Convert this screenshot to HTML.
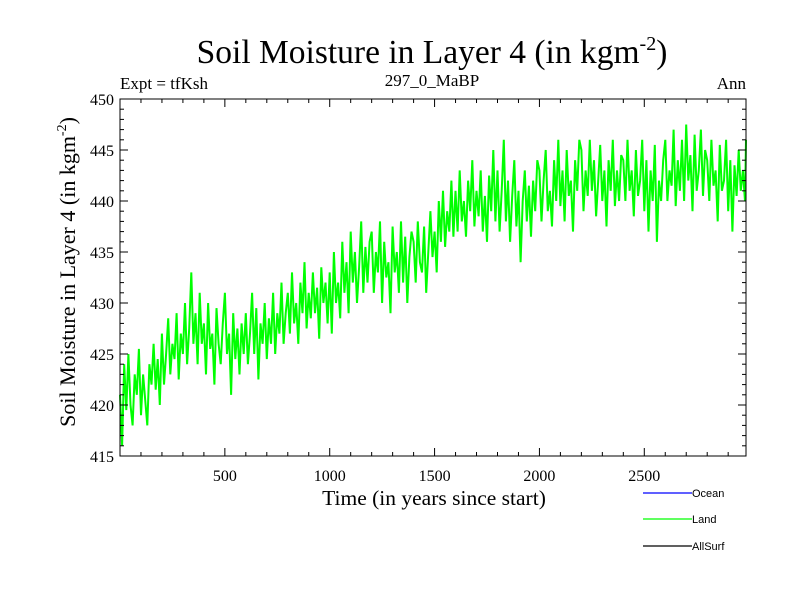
<!DOCTYPE html>
<html><head><meta charset="utf-8"><style>
body{margin:0;background:#fff}
svg{display:block;font-family:"Liberation Serif",serif}
</style></head><body>
<svg id="chart" width="800" height="600">
<text x="432" y="63" font-size="33.5" text-anchor="middle">Soil Moisture in Layer 4 (in kgm<tspan dy="-13" font-size="20">-2</tspan><tspan dy="13">)</tspan></text>
<text x="120" y="89" font-size="17">Expt = tfKsh</text>
<text x="432" y="86" font-size="17" text-anchor="middle">297_0_MaBP</text>
<text x="746" y="89" font-size="17" text-anchor="end">Ann</text>
<text transform="translate(75,272) rotate(-90)" font-size="22" text-anchor="middle">Soil Moisture in Layer 4 (in kgm<tspan dy="-9" font-size="14">-2</tspan><tspan dy="9">)</tspan></text>
<text x="434" y="505" font-size="21.5" text-anchor="middle">Time (in years since start)</text>
<g id="series"></g>
<g id="axes"></g>
<g font-family="Liberation Sans, sans-serif" font-size="11">
<g><line x1="643" y1="493" x2="692" y2="493" stroke="#0000ff" stroke-width="1.3"/><text x="692" y="497">Ocean</text></g>
<g><line x1="643" y1="519" x2="692" y2="519" stroke="#00ff00" stroke-width="1.3"/><text x="692" y="523">Land</text></g>
<g><line x1="643" y1="546" x2="692" y2="546" stroke="#000" stroke-width="1.3"/><text x="692" y="550">AllSurf</text></g>
</g>
</svg>
<script>
const years0 = 0, yearStep = 10;
const landValues = [
421,416,424,419.5,425,420,418,423,421,425.5,419,423,420.5,418,424,422,426,421.5,424.5,420,
427,422,425,428.5,423,426,424.5,429,422.5,427,425,430,424,427.5,433,426,429,424,431,426,
428,423,430,425.5,427,422,429.5,426,424,428,431,425,427,421,429,424.5,427.5,423,428,425,
429,424,427,431,425,429.5,422.5,428,426,430,424.5,428.5,426,431,425,429,427,432,426,429,
431,427,433,428,430,426,432,429,434,427.5,431,428.5,433,429,431.5,426.5,433.5,430,432,428,
433,427,435,430,432,428.5,436,431,434,429,437,432,435,430,433.5,438,431,435.5,432,436,
437,431,435,433,438,430,436,432.5,434,429,437.5,433,435,431,438,432,436.5,430,434.5,437,
436,432,438,434,433,437.5,431,435,439,434.5,437,433,440,436,441,435.5,439,437,442,436.5,
441,437,443,438,440,436.5,442,439,444,437.5,441,438.5,443,437,440.5,436,442.5,439,445,438,
443,437,441,446,438,442,436,440.5,444,437.5,441,434,440,443,438,441.5,436.5,442,439,444,
443,438,442,445,439,441,437.5,444,440,446,439.5,443,438,445,440.5,442,437,444,441,446,
445,439,443,440.5,446,441,444,438.5,442,445.5,440,443,437.5,444,441,446,439.5,443,440,444.5,
444,440,446,441,443,438.5,445,440.5,442,446,439,444,437,443,440,445.5,436,442,440,444,
446,440,443,441.5,447,439.5,444,441,446,440,447.5,442,444.5,439,446.5,441,443,447,440.5,445,
444,440,446,441.5,443,438,445.5,441,442,446,439,444,437,443.5,440.5,445,441,443,440,446];
const xTicks = [500,1000,1500,2000,2500];
const yTicks = [415,420,425,430,435,440,445,450];
const X0=120,X1=746,Y0=99,Y1=456, XMIN=0,XMAX=2985,YMIN=415,YMAX=450;
const sx=v=>X0+(v-XMIN)/(XMAX-XMIN)*(X1-X0);
const sy=v=>Y1-(v-YMIN)/(YMAX-YMIN)*(Y1-Y0);
const NS="http://www.w3.org/2000/svg";
const mk=(t,a,p)=>{const e=document.createElementNS(NS,t);for(const k in a)e.setAttribute(k,a[k]);p.appendChild(e);return e;};
const sg=document.getElementById('series');
const pts=landValues.map((v,i)=>sx(Math.min(years0+i*yearStep,XMAX)).toFixed(1)+','+sy(v).toFixed(1)).join(' ');
const pl=mk('polyline',{points:pts,fill:'none',stroke:'#00ff00','stroke-width':'2'},sg);


const ax=document.getElementById('axes');
const fr=mk('rect',{x:X0,y:Y0,width:X1-X0,height:Y1-Y0,fill:'none',stroke:'#000','stroke-width':'1'},ax);


for(let v=100;v<XMAX;v+=100){const x=sx(v),L=(v%500===0)?8:4;
 mk('line',{x1:x,y1:Y1,x2:x,y2:Y1-L,stroke:'#000'},ax);
 mk('line',{x1:x,y1:Y0,x2:x,y2:Y0+L,stroke:'#000'},ax);}
for(let v=YMIN+1;v<YMAX;v++){const y=sy(v),L=(v%5===0)?8:4;
 mk('line',{x1:X0,y1:y,x2:X0+L,y2:y,stroke:'#000'},ax);
 mk('line',{x1:X1,y1:y,x2:X1-L,y2:y,stroke:'#000'},ax);}
xTicks.forEach(v=>{const t=mk('text',{x:sx(v),y:Y1+25,'font-size':16,'text-anchor':'middle'},ax);t.textContent=v;
 
 });
yTicks.forEach(v=>{const t=mk('text',{x:X0-6,y:sy(v)+6,'font-size':16,'text-anchor':'end'},ax);t.textContent=v;
 
 });
</script>
</body></html>
